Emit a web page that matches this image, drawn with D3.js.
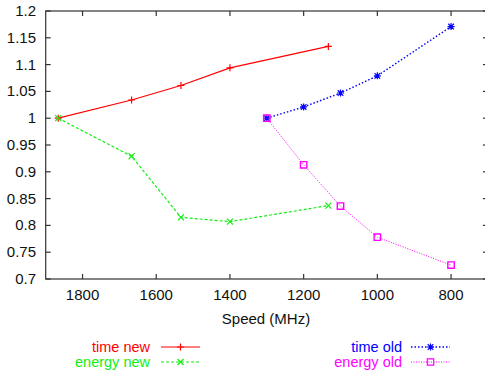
<!DOCTYPE html>
<html>
<head>
<meta charset="utf-8">
<script src="https://cdn.jsdelivr.net/npm/d3@7"></script>
<style>
  body { margin: 0; background: #fff; }
  svg text { font-family: "Liberation Sans", Arial, sans-serif; font-size: 15px; }
  svg text.legend { font-size: 14.5px; }
</style>
</head>
<body>
<div id="chart"></div>
<script>
// data
var speedsNew = [1866, 1667, 1533, 1400, 1133];
var timeNew = [1.0, 1.034, 1.061, 1.094, 1.134];
var energyNew = [1.0, 0.929, 0.815, 0.807, 0.837];
var speedsOld = [1300, 1200, 1100, 1000, 800];
var timeOld = [1.0, 1.021, 1.047, 1.079, 1.171];
var energyOld = [1.0, 0.913, 0.836, 0.778, 0.726];
var xTicks = [1800, 1600, 1400, 1200, 1000, 800];
var yTicks = [0.7, 0.75, 0.8, 0.85, 0.9, 0.95, 1, 1.05, 1.1, 1.15, 1.2];

var svg = d3.select("#chart").append("svg")
    .attr("width", 485)
    .attr("height", 371);

var plotLeft = 45.7, plotRight = 487.9, plotTop = 11, plotBottom = 279;

var x = d3.scaleLinear().domain([1900, 700]).range([plotLeft, plotRight]);
var y = d3.scaleLinear().domain([0.7, 1.2]).range([plotBottom, plotTop]);

// border + ticks (gnuplot style, ticks inward on all sides)
var axisColor = "#333";
var tl = 5;

svg.append("rect")
    .attr("x", plotLeft).attr("y", plotTop)
    .attr("width", plotRight - plotLeft).attr("height", plotBottom - plotTop)
    .attr("fill", "none").attr("stroke", axisColor).attr("stroke-width", 1.2);

var ticks = svg.append("g");
xTicks.forEach(function(t) {
    ticks.append("line").attr("x1", x(t)).attr("x2", x(t)).attr("y1", plotBottom).attr("y2", plotBottom - tl);
    ticks.append("line").attr("x1", x(t)).attr("x2", x(t)).attr("y1", plotTop).attr("y2", plotTop + tl);
    svg.append("text")
        .attr("x", x(t)).attr("y", 300)
        .attr("text-anchor", "middle")
        .attr("fill", "#111")
        .text(t);
});
yTicks.forEach(function(t) {
    ticks.append("line").attr("x1", plotLeft).attr("x2", plotLeft + tl).attr("y1", y(t)).attr("y2", y(t));
    ticks.append("line").attr("x1", plotRight).attr("x2", plotRight - tl).attr("y1", y(t)).attr("y2", y(t));
    svg.append("text")
        .attr("x", 36).attr("y", y(t) + 5)
        .attr("text-anchor", "end")
        .attr("fill", "#111")
        .text(+t.toFixed(2));
});
ticks.selectAll("line").attr("stroke", axisColor).attr("stroke-width", 1.2);

svg.append("text")
    .attr("x", 266).attr("y", 324)
    .attr("text-anchor", "middle")
    .attr("fill", "#111")
    .text("Speed (MHz)");

// point symbols
function symbolPath(kind, s) {
    if (kind == "plus") return "M" + (-s) + ",0H" + s + "M0," + (-s) + "V" + s;
    if (kind == "cross") return "M" + (-s) + "," + (-s) + "L" + s + "," + s + "M" + (-s) + "," + s + "L" + s + "," + (-s);
    if (kind == "star") return symbolPath("plus", s) + symbolPath("cross", s * 0.8);
    return "M" + (-s) + "," + (-s) + "H" + s + "V" + s + "H" + (-s) + "Z";
}

var series = [
    { name: "time new", xs: speedsNew, ys: timeNew, color: "#ff0000", dash: null, width: 1.2, sym: "plus", size: 3.5 },
    { name: "energy new", xs: speedsNew, ys: energyNew, color: "#11ee11", dash: "3,2", width: 1.2, sym: "cross", size: 3 },
    { name: "time old", xs: speedsOld, ys: timeOld, color: "#0000ff", dash: "1.5,2", width: 1.4, sym: "star", size: 3.5 },
    { name: "energy old", xs: speedsOld, ys: energyOld, color: "#ff00ff", dash: "1,1.5", width: 1, sym: "square", size: 3.2 }
];

var line = d3.line()
    .x(function(d) { return x(d[0]); })
    .y(function(d) { return y(d[1]); });

series.forEach(function(s) {
    var pts = s.xs.map(function(v, i) { return [v, s.ys[i]]; });
    svg.append("path")
        .attr("d", line(pts))
        .attr("fill", "none")
        .attr("stroke", s.color)
        .attr("stroke-width", s.width)
        .attr("stroke-dasharray", s.dash);
    svg.append("g").selectAll("path")
        .data(pts)
        .enter()
        .append("path")
        .attr("transform", function(d) { return "translate(" + x(d[0]) + "," + y(d[1]) + ")"; })
        .attr("d", symbolPath(s.sym, s.size))
        .attr("fill", "none")
        .attr("stroke", s.color)
        .attr("stroke-width", s.sym == "square" ? 1.4 : 1.2);
});

// legend, two columns
var legendPos = [
    { tx: 150, lx: 161, y: 347 },
    { tx: 150, lx: 161, y: 362 },
    { tx: 402, lx: 411, y: 347 },
    { tx: 402, lx: 411, y: 362 }
];
series.forEach(function(s, i) {
    var p = legendPos[i];
    svg.append("text")
        .attr("class", "legend")
        .attr("x", p.tx).attr("y", p.y + 5)
        .attr("text-anchor", "end")
        .attr("fill", s.color)
        .text(s.name);
    svg.append("line")
        .attr("x1", p.lx).attr("x2", p.lx + 39)
        .attr("y1", p.y).attr("y2", p.y)
        .attr("stroke", s.color)
        .attr("stroke-width", s.width)
        .attr("stroke-dasharray", s.dash);
    svg.append("path")
        .attr("transform", "translate(" + (p.lx + 19.5) + "," + p.y + ")")
        .attr("d", symbolPath(s.sym, s.size))
        .attr("fill", "none")
        .attr("stroke", s.color)
        .attr("stroke-width", 1.2);
});
</script>
</body>
</html>
